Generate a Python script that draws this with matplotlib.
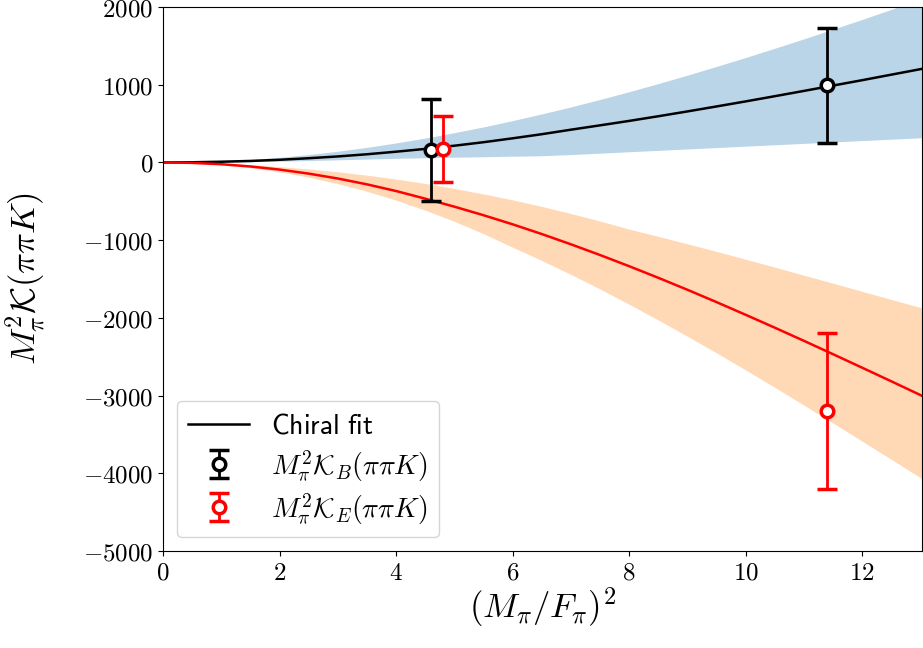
import numpy as np
import matplotlib
matplotlib.use("Agg")
import matplotlib.pyplot as plt

plt.rcParams["mathtext.fontset"] = "cm"

# --- data ---
x_grid = [0, 0.5, 1, 1.5, 2, 2.5, 3, 3.5, 4, 4.5, 5, 5.5, 6, 6.5, 7,
          7.5, 8, 8.5, 9, 9.5, 10, 10.5, 11, 11.5, 12, 12.5, 13, 13.1]

# chiral fit for K_B (black) and its band
fit_B = [0, 2, 9, 19, 34, 54, 77, 105, 138, 174, 215, 260, 310, 363, 421,
         477, 534, 594, 656, 720, 785, 852, 920, 989, 1058, 1129, 1200, 1214]
band_B_hi = [0, 4, 17, 37, 66, 101, 144, 194, 251, 313, 383, 457, 538, 624, 714,
             810, 910, 1014, 1123, 1235, 1350, 1469, 1590, 1714, 1840, 1969, 2099, 2125]
band_B_lo = [0, 1, 4, 9, 16, 24, 33, 43, 53, 60, 67, 73, 80, 86, 101,
             119, 137, 155, 173, 191, 209, 227, 245, 263, 281, 299, 317, 321]

# chiral fit for K_E (red) and its band
fit_E = [0, -6, -23, -52, -92, -144, -207, -282, -368, -466, -569, -679, -796, -921, -1053,
         -1191, -1335, -1484, -1638, -1797, -1960, -2126, -2295, -2467, -2641, -2816, -2993, -3027]
band_E_hi = [0, -3, -13, -30, -54, -84, -121, -164, -214, -271, -335, -405, -482, -566, -657,
             -754, -858, -951, -1047, -1145, -1246, -1347, -1451, -1554, -1659, -1763, -1866, -1888]
band_E_lo = [0, -8, -30, -68, -121, -189, -273, -371, -485, -614, -758, -917, -1091, -1261, -1441,
             -1628, -1824, -2027, -2236, -2450, -2670, -2894, -3122, -3353, -3586, -3820, -4056, -4103]

# lattice points
x_B = [4.60, 11.39]
y_B = [160, 990]
err_B = [650, 740]

x_E = [4.80, 11.39]
y_E = [170, -3200]
err_E = [425, 1000]

xticks = [0, 2, 4, 6, 8, 10, 12]
yticks = [2000, 1000, 0, -1000, -2000, -3000, -4000, -5000]

fig = plt.figure(figsize=(9.23, 6.48), dpi=100)
ax = fig.add_axes([0.1766, 0.1497, 0.8224, 0.8395])

ax.fill_between(x_grid, band_B_lo, band_B_hi, color="C0", alpha=0.3, lw=0)
ax.fill_between(x_grid, band_E_lo, band_E_hi, color="C1", alpha=0.3, lw=0)
ax.plot(x_grid, fit_B, color="black", lw=1.8, label=r"$\mathsf{Chiral\ fit}$")
ax.plot(x_grid, fit_E, color="red", lw=1.8)

ax.errorbar(x_B, y_B, yerr=err_B, fmt="o", color="black", mfc="white",
            ms=9, mew=2.5, elinewidth=2, capsize=7, capthick=2.5,
            label=r"$M_\pi^2\mathcal{K}_B(\pi\pi K)$", zorder=5)
ax.errorbar(x_E, y_E, yerr=err_E, fmt="o", color="red", mfc="white",
            ms=9, mew=2.5, elinewidth=2, capsize=7, capthick=2.5,
            label=r"$M_\pi^2\mathcal{K}_E(\pi\pi K)$", zorder=5)

ax.set_xlim(0, 13.03)
ax.set_ylim(-5000, 2000)
ax.set_xticks(xticks)
ax.set_xticklabels([f"${v}$" for v in xticks], fontsize=18)
ax.set_yticks(yticks)
ax.set_yticklabels([f"${v}$" for v in yticks], fontsize=18)

ax.set_xlabel(r"$(M_\pi/F_\pi)^2$", fontsize=25)
ax.set_ylabel(r"$M_\pi^2\mathcal{K}(\pi\pi K)$", fontsize=25)
ax.xaxis.set_label_coords(0.5, -0.064)
ax.yaxis.set_label_coords(-0.152, 0.5)

ax.legend(loc="lower left", fontsize=20, handlelength=2.2, labelspacing=0.3)

fig.savefig("out.png", dpi=100)
